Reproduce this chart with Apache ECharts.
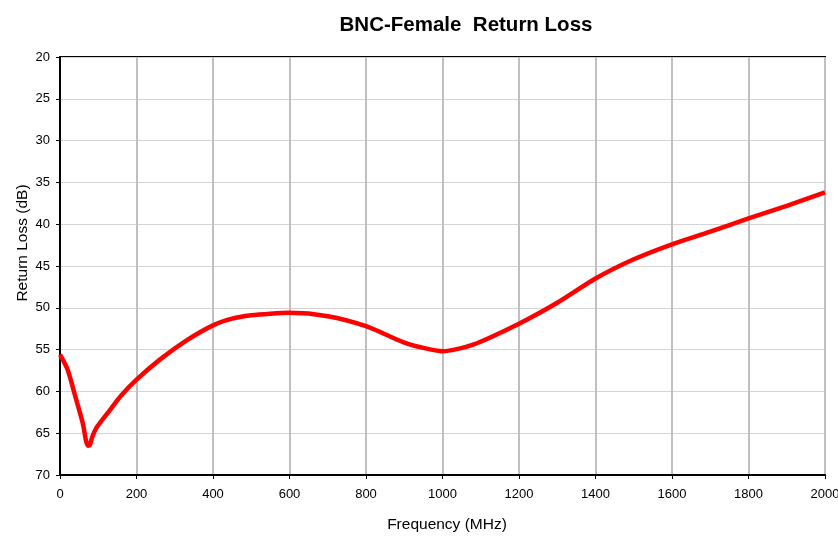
<!DOCTYPE html>
<html>
<head>
<meta charset="utf-8">
<script src="https://cdn.jsdelivr.net/npm/echarts@6/dist/echarts.min.js"></script>
<style>html,body{margin:0;padding:0;background:#fff;}#c{width:838px;height:536px;}</style>
</head>
<body>
<div id="c"></div>
<script>
const freq = [0, 20, 40, 60, 68, 73, 78, 84, 96, 131, 160, 200, 261, 331, 400, 450, 500, 550, 600, 700, 800, 897, 950, 1000, 1080, 1200, 1300, 1400, 1500, 1600, 1700, 1800, 1900, 2000];
const returnLoss = [55.6, 57.4, 60.6, 63.9, 65.9, 66.5, 66.4, 65.5, 64.3, 62.2, 60.5, 58.6, 56.2, 53.9, 52.1, 51.3, 50.9, 50.7, 50.6, 51.0, 52.2, 54.1, 54.8, 55.2, 54.4, 51.9, 49.4, 46.5, 44.2, 42.4, 40.9, 39.3, 37.8, 36.2];
const xTicks = {min: 0, max: 2000, step: 200};
const yTicks = {min: 20, max: 70, step: 5};
const titleText = 'BNC-Female  Return Loss';
const xTitle = 'Frequency (MHz)';
const yTitle = 'Return Loss (dB)';

const chart = echarts.init(document.getElementById('c'), null, {renderer: 'canvas'});
const font = 'Liberation Sans, Arial, sans-serif';
chart.setOption({
  animation: false,
  backgroundColor: '#ffffff',
  title: {
    text: titleText,
    left: 461, top: 10, textAlign: 'center',
    textStyle: {fontFamily: font, fontSize: 20.5, fontWeight: 'bold', color: '#000'}
  },
  graphic: [
    {type: 'text', x: 447, y: 525, style: {text: xTitle, font: '15.5px ' + font, fill: '#000', align: 'center', verticalAlign: 'middle'}},
    {type: 'text', x: 23, y: 243, rotation: Math.PI / 2, style: {text: yTitle, font: '15.5px ' + font, fill: '#000', align: 'center', verticalAlign: 'middle'}}
  ],
  grid: {left: 60, right: 13, top: 57, bottom: 61, outerBoundsMode: 'none', containLabel: false, show: true, borderColor: '#000', borderWidth: 2, backgroundColor: 'transparent'},
  xAxis: {
    type: 'value', min: xTicks.min, max: xTicks.max, interval: xTicks.step,
    axisLine: {show: true, lineStyle: {color: '#000', width: 2}},
    axisTick: {show: true, length: 4, lineStyle: {color: '#000', width: 1}},
    axisLabel: {fontFamily: font, fontSize: 13, color: '#000', margin: 13, formatter: v => String(v)},
    splitLine: {show: true, lineStyle: {color: '#c0c0c0', width: 2}}
  },
  yAxis: {
    type: 'value', inverse: true, min: yTicks.min, max: yTicks.max, interval: yTicks.step,
    axisLine: {show: true, lineStyle: {color: '#000', width: 2}},
    axisTick: {show: true, length: 4, lineStyle: {color: '#000', width: 1}},
    axisLabel: {fontFamily: font, fontSize: 13, color: '#000', margin: 10, formatter: v => String(v)},
    splitLine: {show: true, lineStyle: {color: '#d4d4d4', width: 1}}
  },
  series: [{
    type: 'line',
    data: freq.map((f, i) => [f, returnLoss[i]]),
    smooth: 0.25,
    showSymbol: false,
    lineStyle: {color: '#ff0000', width: 4.5},
    clip: true
  }]
});
</script>
</body>
</html>
